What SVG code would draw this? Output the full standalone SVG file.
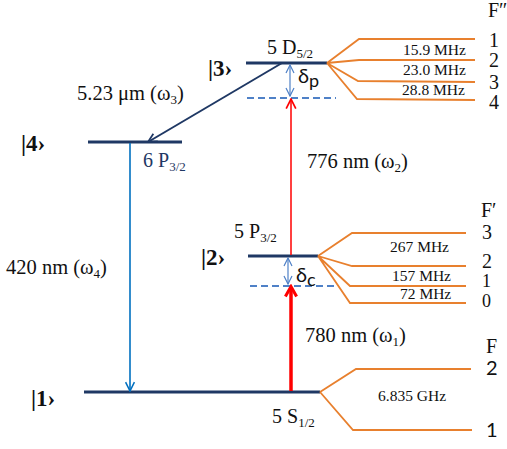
<svg xmlns="http://www.w3.org/2000/svg" width="507" height="449" viewBox="0 0 507 449">
<defs>
<style>
.lvl{stroke:#1f3864;stroke-width:3;fill:none}
.dash{stroke:#4f81c7;stroke-width:2;stroke-dasharray:7,4;fill:none}
.or{stroke:#e8802e;stroke-width:1.8;fill:none}
.t{font-family:"Liberation Serif","Times New Roman",serif;fill:#111}
.s{font-family:Lato,"Open Sans","Liberation Sans",sans-serif;fill:#111}
.ket{font-family:"Liberation Serif","Times New Roman",serif;font-weight:bold;font-size:23px;fill:#111}
.lab{font-size:20.5px}
.nm{font-size:20px}
.sub{font-size:13px}
.hz{font-size:15.5px}
.fn{font-size:20px}
.fs{font-size:18px}
</style>
<marker id="ab" viewBox="0 0 10 10" refX="9" refY="5" markerWidth="11" markerHeight="11" orient="auto" markerUnits="userSpaceOnUse"><path d="M1,1 L9,5 L1,9" fill="none" stroke="#1f3864" stroke-width="1.6"/></marker>
<marker id="al" viewBox="0 0 10 10" refX="9" refY="5" markerWidth="11" markerHeight="11" orient="auto" markerUnits="userSpaceOnUse"><path d="M1,1 L9,5 L1,9" fill="none" stroke="#0070c0" stroke-width="1.4"/></marker>
<marker id="ar" viewBox="0 0 10 10" refX="9" refY="5" markerWidth="12" markerHeight="12" orient="auto" markerUnits="userSpaceOnUse"><path d="M1,1 L9,5 L1,9" fill="none" stroke="#ff0000" stroke-width="1.4"/></marker>
<marker id="arb" viewBox="0 0 10 10" refX="7" refY="5" markerWidth="14" markerHeight="14" orient="auto" markerUnits="userSpaceOnUse"><path d="M1,1 L8,5 L1,9" fill="none" stroke="#ff0000" stroke-width="2.2"/></marker>
<marker id="ad" viewBox="0 0 10 10" refX="9" refY="5" markerWidth="10" markerHeight="10" orient="auto-start-reverse" markerUnits="userSpaceOnUse"><path d="M1,1 L9,5 L1,9" fill="none" stroke="#4f81c7" stroke-width="1.2"/></marker>
</defs>
<rect width="507" height="449" fill="#fff"/>

<g id="level3">
<line class="lvl" x1="246" y1="63" x2="327" y2="63"/>
<line class="dash" x1="247" y1="98" x2="336" y2="98"/>
<text class="ket" x="208" y="76">|3›</text>
<text class="t nm" x="267" y="54">5 D<tspan class="sub" dy="4">5/2</tspan></text>
<text class="s" x="298" y="83" font-size="20">δ<tspan font-size="18" dy="4">p</tspan></text>
<path class="or" d="M327,63 L359,39 L475,39 M327,63 L359,60 L475,60 M327,63 L358,81 L475,82 M327,63 L357,99 L475,100"/>
<text class="t hz" x="403" y="55">15.9 MHz</text>
<text class="t hz" x="403" y="75">23.0 MHz</text>
<text class="t hz" x="402" y="95">28.8 MHz</text>
<text class="t fn" x="488" y="17">F″</text>
<text class="t fn" x="489" y="47">1</text>
<text class="t fn" x="489" y="67">2</text>
<text class="t fn" x="489" y="89">3</text>
<text class="t fn" x="489" y="109">4</text>
</g>

<g id="level4">
<line class="lvl" x1="88" y1="142" x2="182" y2="142"/>
<text class="ket" x="21" y="151">|4›</text>
<text class="t nm" x="143" y="167" style="fill:#1f3864">6 P<tspan class="sub" dy="4">3/2</tspan></text>
</g>

<g id="level2">
<line class="lvl" x1="248" y1="256" x2="318" y2="256"/>
<line class="dash" x1="250" y1="286" x2="338" y2="286"/>
<text class="ket" x="201" y="265">|2›</text>
<text class="t nm" x="234" y="238">5 P<tspan class="sub" dy="4">3/2</tspan></text>
<text class="s" x="296" y="282" font-size="20">δ<tspan font-size="18" dy="4">c</tspan></text>
<path class="or" d="M318,256 L352,233 L466,233 M318,256 L352,266 L466,266 M318,256 L350,286 L466,286 M318,256 L350,303 L466,303"/>
<text class="t hz" x="390" y="252">267 MHz</text>
<text class="t hz" x="392" y="281">157 MHz</text>
<text class="t hz" x="400" y="299">72 MHz</text>
<text class="t fn" x="481" y="217">F′</text>
<text class="t fn" x="482" y="239">3</text>
<text class="t fn" x="482" y="268">2</text>
<text class="t fs" x="482" y="287">1</text>
<text class="t fs" x="482" y="307">0</text>
</g>

<g id="level1">
<line class="lvl" x1="84" y1="392" x2="320" y2="392"/>
<text class="ket" x="31" y="406">|1›</text>
<text class="t nm" x="272" y="423">5 S<tspan class="sub" dy="4">1/2</tspan></text>
<path class="or" d="M320,392 L356,369 L471,369 M320,392 L353,430 L472,430"/>
<text class="t hz" x="378" y="401">6.835 GHz</text>
<text class="t fn" x="486" y="353">F</text>
<text class="s fn" x="486" y="375">2</text>
<text class="s fn" x="486" y="437">1</text>
</g>

<g id="connectors">
<line x1="282" y1="63" x2="148" y2="142" stroke="#1f3864" stroke-width="2" marker-end="url(#ab)"/>
<line x1="130" y1="143" x2="130" y2="391" stroke="#0070c0" stroke-width="1.6" marker-end="url(#al)"/>
<line x1="291" y1="255" x2="291" y2="99" stroke="#ff0000" stroke-width="1.5" marker-end="url(#ar)"/>
<line x1="291" y1="391" x2="291" y2="288" stroke="#ff0000" stroke-width="3.5" marker-end="url(#arb)"/>
<line x1="290" y1="65" x2="290" y2="96" stroke="#4f81c7" stroke-width="1.2" marker-start="url(#ad)" marker-end="url(#ad)"/>
<line x1="288" y1="258" x2="288" y2="284" stroke="#4f81c7" stroke-width="1.2" marker-start="url(#ad)" marker-end="url(#ad)"/>
</g>

<g id="labels">
<text class="t lab" x="77" y="100">5.23 μm (ω<tspan class="sub" dy="4">3</tspan><tspan dy="-4">)</tspan></text>
<text class="t lab" x="307" y="168">776 nm (ω<tspan class="sub" dy="4">2</tspan><tspan dy="-4">)</tspan></text>
<text class="t lab" x="6" y="274">420 nm (ω<tspan class="sub" dy="4">4</tspan><tspan dy="-4">)</tspan></text>
<text class="t lab" x="305" y="342">780 nm (ω<tspan class="sub" dy="4">1</tspan><tspan dy="-4">)</tspan></text>
</g>
</svg>
